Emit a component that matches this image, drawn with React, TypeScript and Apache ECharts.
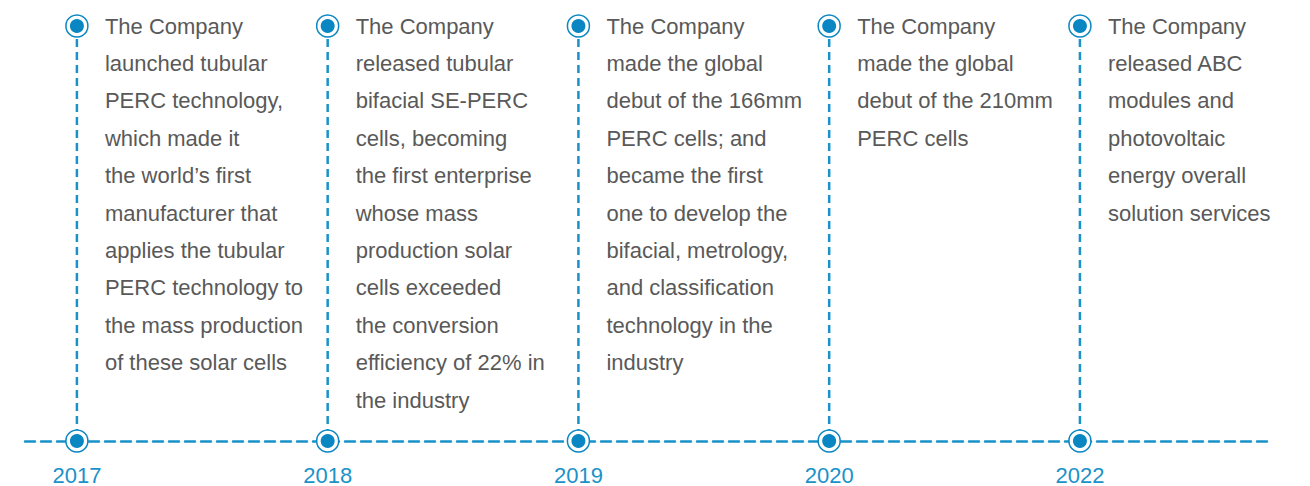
import React, { useEffect, useRef } from "react";
import * as echarts from "echarts";

const years = ["2017", "2018", "2019", "2020", "2022"];
const events = [
  "The Company\nlaunched tubular\nPERC technology,\nwhich made it\nthe world\u2019s first\nmanufacturer that\napplies the tubular\nPERC technology to\nthe mass production\nof these solar cells",
  "The Company\nreleased tubular\nbifacial SE-PERC\ncells, becoming\nthe first enterprise\nwhose mass\nproduction solar\ncells exceeded\nthe conversion\nefficiency of 22% in\nthe industry",
  "The Company\nmade the global\ndebut of the 166mm\nPERC cells; and\nbecame the first\none to develop the\nbifacial, metrology,\nand classification\ntechnology in the\nindustry",
  "The Company\nmade the global\ndebut of the 210mm\nPERC cells",
  "The Company\nreleased ABC\nmodules and\nphotovoltaic\nenergy overall\nsolution services",
];

const BLUE = "#1a92c9";
const DOT = "#0a87c2";
const TEXT = "#595959";
const FONT = '"Liberation Sans", Arial, sans-serif';

export default function App() {
  const ref = useRef<HTMLDivElement>(null);
  useEffect(() => {
    const chart = echarts.init(ref.current!, null, { renderer: "svg" });
    const marker = (x: number, y: number) => [
      { type: "circle", shape: { cx: x, cy: y, r: 11 }, style: { fill: "#fff", stroke: DOT, lineWidth: 1.5 } },
      { type: "circle", shape: { cx: x, cy: y, r: 7 }, style: { fill: DOT } },
    ];
    chart.setOption({
      animation: false,
      grid: { left: 25, right: 38, top: 26, bottom: 45 },
      xAxis: {
        type: "value",
        min: -0.207,
        max: 4.766,
        axisLine: { show: true, lineStyle: { color: BLUE, width: 2.5, type: [10, 6] } },
        axisTick: { show: false },
        axisLabel: { show: false },
        splitLine: { show: false },
      },
      yAxis: { type: "value", min: 0, max: 1, show: false },
      series: [
        {
          type: "custom",
          clip: false,
          data: years.map((_, i) => [i, 0]),
          renderItem: (params: any, api: any) => {
            const i = api.value(0);
            const top = api.coord([i, 1]);
            const bot = api.coord([i, 0]);
            return {
              type: "group",
              children: [
                {
                  type: "line",
                  shape: { x1: top[0], y1: top[1], x2: bot[0], y2: bot[1] },
                  style: { stroke: BLUE, lineWidth: 2.5, lineDash: [8, 5] },
                },
                ...marker(top[0], top[1]),
                ...marker(bot[0], bot[1]),
                {
                  type: "text",
                  style: {
                    text: events[i],
                    x: top[0] + 28,
                    y: top[1] - 18.7,
                    fill: TEXT,
                    fontSize: 22,
                    fontFamily: FONT,
                    lineHeight: 37.4,
                    align: "left",
                    verticalAlign: "top",
                  },
                },
                {
                  type: "text",
                  style: {
                    text: years[i],
                    x: bot[0],
                    y: bot[1] + 34,
                    fill: BLUE,
                    fontSize: 22,
                    fontFamily: FONT,
                    align: "center",
                    verticalAlign: "middle",
                  },
                },
              ],
            };
          },
        },
      ],
    });
    return () => chart.dispose();
  }, []);
  return (
    <div
      ref={ref}
      style={{ position: "absolute", left: 0, top: 0, width: 1310, height: 486, background: "#fff" }}
    />
  );
}
